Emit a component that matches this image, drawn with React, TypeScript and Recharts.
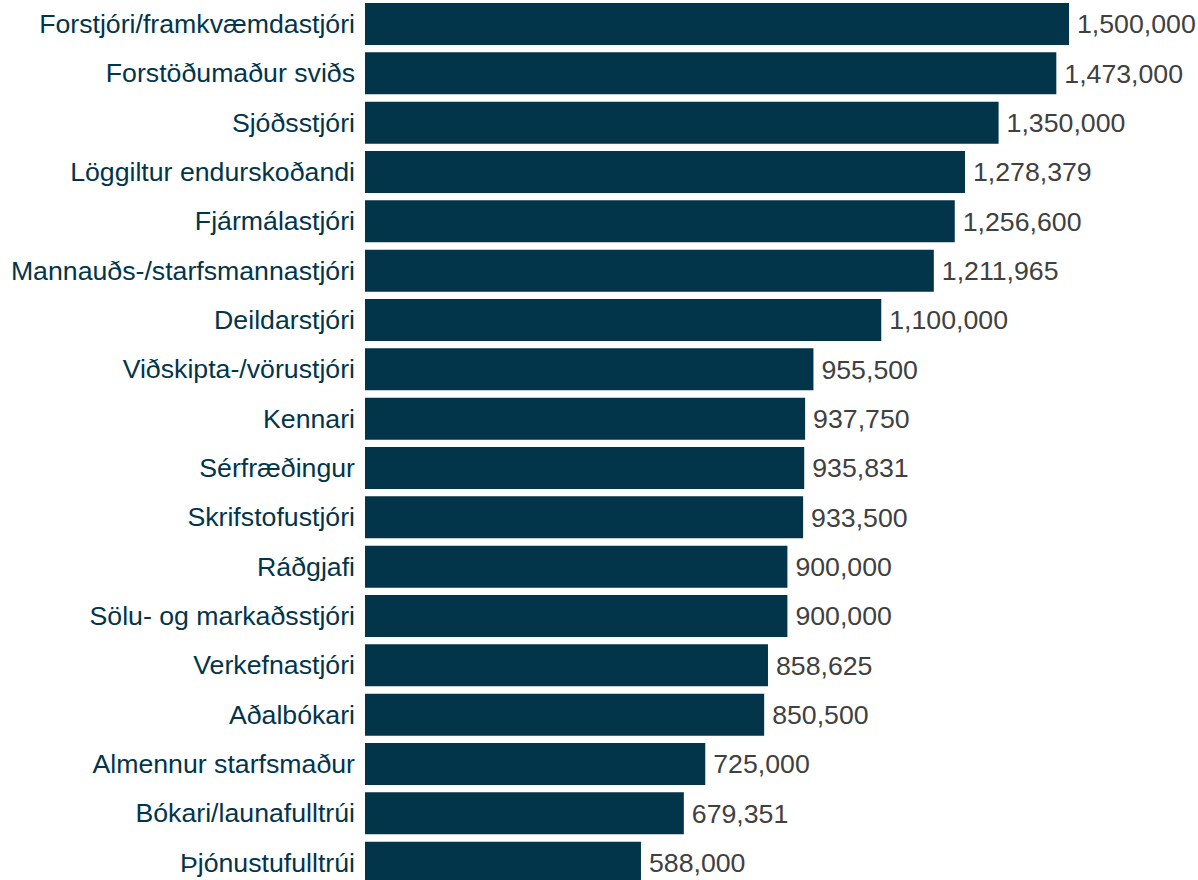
import { BarChart, Bar, XAxis, YAxis, LabelList } from 'recharts';

const jobTitles = [
  'Forstjóri/framkvæmdastjóri',
  'Forstöðumaður sviðs',
  'Sjóðsstjóri',
  'Löggiltur endurskoðandi',
  'Fjármálastjóri',
  'Mannauðs-/starfsmannastjóri',
  'Deildarstjóri',
  'Viðskipta-/vörustjóri',
  'Kennari',
  'Sérfræðingur',
  'Skrifstofustjóri',
  'Ráðgjafi',
  'Sölu- og markaðsstjóri',
  'Verkefnastjóri',
  'Aðalbókari',
  'Almennur starfsmaður',
  'Bókari/launafulltrúi',
  'Þjónustufulltrúi',
];

const salaries = [
  1500000, 1473000, 1350000, 1278379, 1256600, 1211965, 1100000, 955500, 937750,
  935831, 933500, 900000, 900000, 858625, 850500, 725000, 679351, 588000,
];

const data = jobTitles.map((title, i) => ({ title, salary: salaries[i] }));

const BAR = '#02354a';
const FONT = '"Liberation Sans", Arial, sans-serif';

export default function App() {
  return (
    <div style={{ position: 'absolute', left: 0, top: 0, width: 1198, height: 880, overflow: 'hidden', background: '#fff' }}>
      <div style={{ position: 'absolute', left: 0, top: -1 }}>
        <BarChart
          width={1198}
          height={888}
          data={data}
          layout="vertical"
          margin={{ top: 0, right: 129, bottom: 0, left: 0 }}
          barSize={42}
        >
          <XAxis type="number" domain={[0, 1500000]} hide />
          <YAxis
            type="category"
            dataKey="title"
            width={365}
            axisLine={false}
            tickLine={false}
            tickMargin={4}
            interval={0}
            tick={{ fontSize: 26.7, fill: BAR, fontFamily: FONT }}
          />
          <Bar dataKey="salary" fill={BAR} isAnimationActive={false}>
            <LabelList
              dataKey="salary"
              position="right"
              offset={8}
              formatter={(v: number) => v.toLocaleString('en-US')}
              style={{ fontSize: 26.7, fill: '#404040', fontFamily: FONT }}
            />
          </Bar>
        </BarChart>
      </div>
    </div>
  );
}
